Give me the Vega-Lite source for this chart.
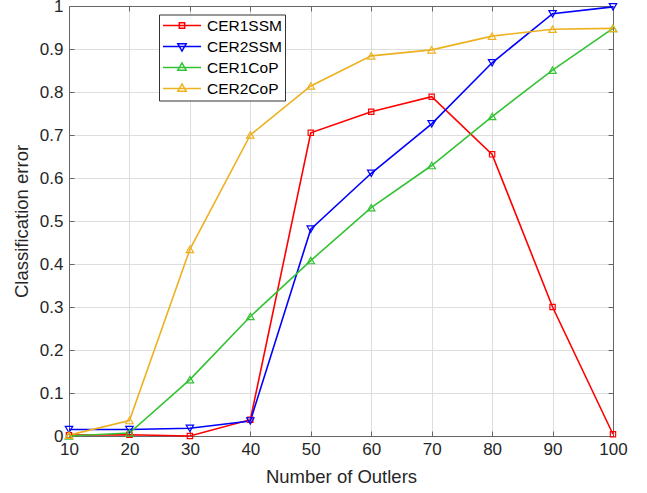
{
  "$schema": "https://vega.github.io/schema/vega-lite/v6.json",
  "width": 544,
  "height": 430,
  "autosize": "none",
  "padding": {"left": 69, "top": 6, "right": 34, "bottom": 57},
  "background": "white",
  "config": {
    "font": "Liberation Sans",
    "view": {"stroke": null},
    "axis": {
      "labelFont": "Liberation Sans",
      "titleFont": "Liberation Sans",
      "labelColor": "#262626",
      "titleColor": "#262626",
      "labelFontSize": 17,
      "titleFontSize": 18.5,
      "titleFontWeight": "normal",
      "domainColor": "#666666",
      "tickColor": "#666666",
      "gridColor": "#dedede",
      "gridWidth": 1,
      "labelFlush": false
    }
  },
  "data": {
    "values": [
      {"x": 10, "series": "CER1SSM", "y": 0.002},
      {"x": 20, "series": "CER1SSM", "y": 0.003},
      {"x": 30, "series": "CER1SSM", "y": 0.0},
      {"x": 40, "series": "CER1SSM", "y": 0.038},
      {"x": 50, "series": "CER1SSM", "y": 0.705},
      {"x": 60, "series": "CER1SSM", "y": 0.754},
      {"x": 70, "series": "CER1SSM", "y": 0.789},
      {"x": 80, "series": "CER1SSM", "y": 0.655},
      {"x": 90, "series": "CER1SSM", "y": 0.3},
      {"x": 100, "series": "CER1SSM", "y": 0.004},
      {"x": 10, "series": "CER2SSM", "y": 0.015},
      {"x": 20, "series": "CER2SSM", "y": 0.015},
      {"x": 30, "series": "CER2SSM", "y": 0.018},
      {"x": 40, "series": "CER2SSM", "y": 0.035},
      {"x": 50, "series": "CER2SSM", "y": 0.481},
      {"x": 60, "series": "CER2SSM", "y": 0.611},
      {"x": 70, "series": "CER2SSM", "y": 0.726},
      {"x": 80, "series": "CER2SSM", "y": 0.868},
      {"x": 90, "series": "CER2SSM", "y": 0.982},
      {"x": 100, "series": "CER2SSM", "y": 0.998},
      {"x": 10, "series": "CER1CoP", "y": 0.0},
      {"x": 20, "series": "CER1CoP", "y": 0.007},
      {"x": 30, "series": "CER1CoP", "y": 0.131},
      {"x": 40, "series": "CER1CoP", "y": 0.278},
      {"x": 50, "series": "CER1CoP", "y": 0.408},
      {"x": 60, "series": "CER1CoP", "y": 0.531},
      {"x": 70, "series": "CER1CoP", "y": 0.629},
      {"x": 80, "series": "CER1CoP", "y": 0.743},
      {"x": 90, "series": "CER1CoP", "y": 0.851},
      {"x": 100, "series": "CER1CoP", "y": 0.948},
      {"x": 10, "series": "CER2CoP", "y": 0.002},
      {"x": 20, "series": "CER2CoP", "y": 0.036},
      {"x": 30, "series": "CER2CoP", "y": 0.434},
      {"x": 40, "series": "CER2CoP", "y": 0.7},
      {"x": 50, "series": "CER2CoP", "y": 0.814},
      {"x": 60, "series": "CER2CoP", "y": 0.884},
      {"x": 70, "series": "CER2CoP", "y": 0.898},
      {"x": 80, "series": "CER2CoP", "y": 0.93},
      {"x": 90, "series": "CER2CoP", "y": 0.946},
      {"x": 100, "series": "CER2CoP", "y": 0.948}
    ]
  },
  "layer": [
    {
      "mark": {"type": "line", "strokeWidth": 1.6},
      "encoding": {
        "x": {
          "field": "x", "type": "quantitative",
          "scale": {"domain": [10, 100], "nice": false, "zero": false},
          "axis": {"title": "Number of Outlers", "values": [10, 20, 30, 40, 50, 60, 70, 80, 90, 100], "tickSize": -5, "labelPadding": 10, "titlePadding": 10, "grid": true}
        },
        "y": {
          "field": "y", "type": "quantitative",
          "scale": {"domain": [0, 1], "nice": false},
          "axis": {"title": "Classification error", "values": [0, 0.1, 0.2, 0.3, 0.4, 0.5, 0.6, 0.7, 0.8, 0.9, 1], "format": ".1~f", "tickSize": -5, "labelPadding": 11, "titlePadding": 8, "grid": true}
        },
        "color": {
          "field": "series", "type": "nominal",
          "scale": {"domain": ["CER1SSM", "CER2SSM", "CER1CoP", "CER2CoP"], "range": ["#ff0000", "#0000ff", "#33c233", "#edb120"]},
          "legend": {
            "title": null,
            "orient": "none",
            "legendX": 90,
            "legendY": 8.5,
            "fillColor": "white",
            "strokeColor": "#333333",
            "padding": 3,
            "rowPadding": 4,
            "clipHeight": 16,
            "symbolSize": 1444,
            "symbolStrokeWidth": 1.5,
            "labelFontSize": 15.5,
            "labelFont": "Liberation Sans",
            "labelColor": "#000000",
            "labelOffset": 5,
            "encode": {
              "symbols": {
                "update": {
                  "shape": {"signal": "datum.value === 'CER1SSM' ? 'M-1,0H1M-0.14,-0.14H0.14V0.14H-0.14Z' : datum.value === 'CER2SSM' ? 'M-1,0H1M-0.22,-0.14H0.22L0,0.24Z' : 'M-1,0H1M-0.22,0.14H0.22L0,-0.24Z'"},
                  "fill": {"value": "transparent"}
                }
              }
            }
          }
        }
      }
    },
    {
      "transform": [{"filter": "datum.series === 'CER1SSM'"}],
      "mark": {"type": "point", "filled": false, "strokeWidth": 1.2, "opacity": 1, "shape": "square", "size": 28, "stroke": "#ff0000"},
      "encoding": {
        "x": {"field": "x", "type": "quantitative", "axis": null},
        "y": {"field": "y", "type": "quantitative", "axis": null}
      }
    },
    {
      "transform": [{"filter": "datum.series !== 'CER1SSM'"}],
      "mark": {"type": "point", "filled": false, "strokeWidth": 1.2, "opacity": 1, "size": 55},
      "encoding": {
        "x": {"field": "x", "type": "quantitative", "axis": null},
        "y": {"field": "y", "type": "quantitative", "axis": null},
        "stroke": {
          "field": "series", "type": "nominal",
          "scale": {"domain": ["CER2SSM", "CER1CoP", "CER2CoP"], "range": ["#0000ff", "#33c233", "#edb120"]},
          "legend": null
        },
        "shape": {
          "field": "series", "type": "nominal",
          "scale": {"domain": ["CER1CoP", "CER2CoP", "CER2SSM"], "range": ["triangle-up", "triangle-up", "triangle-down"]},
          "legend": null
        }
      }
    },
    {
      "mark": {"type": "point", "opacity": 0},
      "encoding": {
        "x": {"field": "x", "type": "quantitative", "axis": {"orient": "top", "labels": false, "title": null, "values": [10, 20, 30, 40, 50, 60, 70, 80, 90, 100], "tickSize": -5, "grid": false}},
        "y": {"field": "y", "type": "quantitative", "axis": {"orient": "right", "labels": false, "title": null, "values": [0, 0.1, 0.2, 0.3, 0.4, 0.5, 0.6, 0.7, 0.8, 0.9, 1], "tickSize": -5, "grid": false}}
      }
    }
  ],
  "resolve": {"axis": {"x": "independent", "y": "independent"}}
}
